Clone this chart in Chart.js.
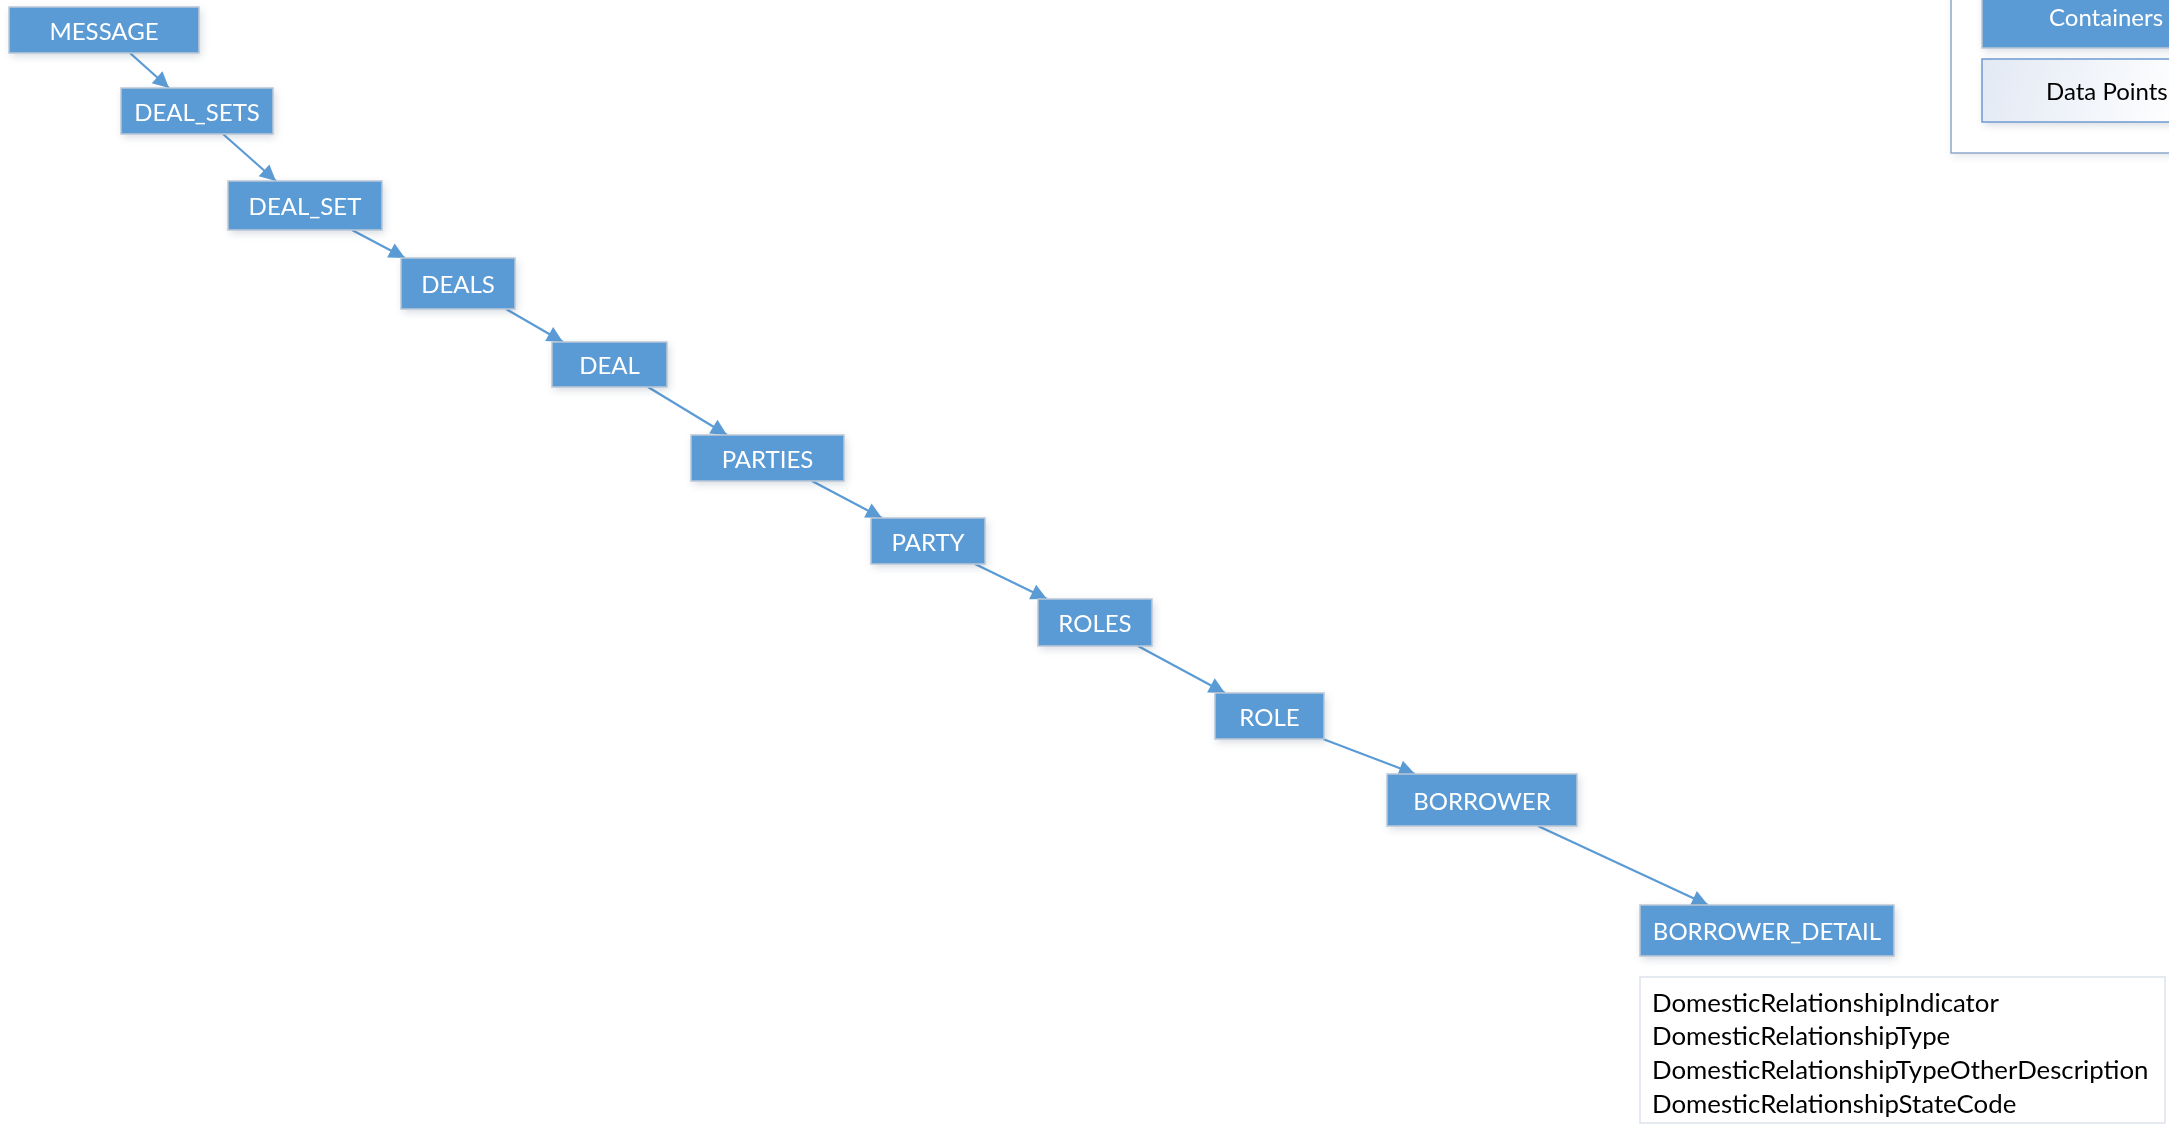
<!DOCTYPE html>
<html><head><meta charset="utf-8">
<script src="https://cdn.jsdelivr.net/npm/chart.js@4.4.1/dist/chart.umd.min.js"></script>
<style>html,body{margin:0;padding:0;background:#fff;overflow:hidden}canvas{display:block}</style>
</head><body>
<canvas id="c" width="2169" height="1131"></canvas>
<script>
// ---- data ----
const nodes = ['MESSAGE','DEAL_SETS','DEAL_SET','DEALS','DEAL','PARTIES','PARTY','ROLES','ROLE','BORROWER','BORROWER_DETAIL'];
const parentOf = [-1,0,1,2,3,4,5,6,7,8,9];
const dataPoints = ['DomesticRelationshipIndicator','DomesticRelationshipType','DomesticRelationshipTypeOtherDescription','DomesticRelationshipStateCode'];
const legendItems = ['Containers','Data Points'];

// ---- layout (diagram units) ----
const boxLeft   = [9,121,228,401,552,691,871,1038,1215,1387,1640];
const boxTop    = [7,88,181,258,342,435,518,599,693,774,905];
const boxRight  = [199,273,382,515,667,844,985,1152,1324,1577,1894];
const boxBottom = [53,134,230,309,387,481,564,646,739,826,956];
const edgeFromX = [null,130,223,352,506,648,812,975,1138,1323,1538];
const edgeToX   = [null,169,276,405,563,727,882,1047,1225,1415,1708];
const attrBox = {l:1640,t:977,r:2165,b:1123,textX:1652,firstBase:1011.5,step:33.7};
const legendBox = {l:1951,t:-20,r:2240,b:153};
const legendRows = [{l:1982,t:-20,r:2260,b:48,textX:2049,base:26},{l:1982,t:59,r:2260,b:122,textX:2046,base:100}];

const BLUE = '#5B9BD5';
const FONT = 'Lato, "Open Sans", sans-serif';

const datasets = [{
  label:'nodes',
  data: nodes.map((n,i)=>({x:(boxLeft[i]+boxRight[i])/2, y:(boxTop[i]+boxBottom[i])/2})),
  pointRadius:0, showLine:false
}];
nodes.forEach((n,i)=>{
  const p = parentOf[i];
  if (p < 0) return;
  datasets.push({
    label:'edge '+nodes[p]+'→'+n,
    data:[{x:edgeFromX[i], y:boxBottom[p]},{x:edgeToX[i], y:boxTop[i]}],
    showLine:true, borderColor:BLUE, borderWidth:2.2, pointRadius:0, fill:false
  });
});

const diagram = {
  id:'diagram',
  afterDatasetsDraw(chart){
    const ctx = chart.ctx, xs = chart.scales.x, ys = chart.scales.y;
    const X = v=>xs.getPixelForValue(v), Y = v=>ys.getPixelForValue(v);
    ctx.save();
    // arrowheads
    chart.data.datasets.forEach((ds,di)=>{
      if (di===0) return;
      const pts = chart.getDatasetMeta(di).data;
      const a = pts[0], b = pts[1];
      const ang = Math.atan2(b.y-a.y, b.x-a.x);
      const L = 16, W = 8;
      ctx.beginPath();
      ctx.moveTo(b.x, b.y);
      ctx.lineTo(b.x - L*Math.cos(ang) + W*Math.sin(ang), b.y - L*Math.sin(ang) - W*Math.cos(ang));
      ctx.lineTo(b.x - L*Math.cos(ang) - W*Math.sin(ang), b.y - L*Math.sin(ang) + W*Math.cos(ang));
      ctx.closePath();
      ctx.fillStyle = BLUE; ctx.fill();
    });
    // boxes
    nodes.forEach((n,i)=>{
      const l=X(boxLeft[i]), r=X(boxRight[i]), t=Y(boxTop[i]), b=Y(boxBottom[i]);
      ctx.save();
      ctx.shadowColor='rgba(60,80,110,0.22)'; ctx.shadowBlur=8; ctx.shadowOffsetX=2; ctx.shadowOffsetY=3;
      ctx.fillStyle=BLUE; ctx.fillRect(l,t,r-l,b-t);
      ctx.restore();
      ctx.strokeStyle='#BCC8D6'; ctx.lineWidth=1.5; ctx.strokeRect(l,t,r-l,b-t);
      ctx.fillStyle='#fff'; ctx.font='24px '+FONT; ctx.textAlign='center'; ctx.textBaseline='alphabetic';
      ctx.fillText(n,(l+r)/2,(t+b)/2+9.5);
    });
    // attribute box
    {
      const l=X(attrBox.l), r=X(attrBox.r), t=Y(attrBox.t), b=Y(attrBox.b);
      ctx.fillStyle='#fff'; ctx.fillRect(l,t,r-l,b-t);
      ctx.strokeStyle='#DCE3EC'; ctx.lineWidth=1.5; ctx.strokeRect(l,t,r-l,b-t);
      ctx.fillStyle='#000'; ctx.font='25.8px '+FONT; ctx.textAlign='left';
      dataPoints.forEach((s,k)=>ctx.fillText(s, X(attrBox.textX), Y(attrBox.firstBase + k*attrBox.step)));
    }
    // legend
    {
      const l=X(legendBox.l), r=X(legendBox.r), t=Y(legendBox.t), b=Y(legendBox.b);
      ctx.save();
      ctx.shadowColor='rgba(60,80,110,0.15)'; ctx.shadowBlur=8; ctx.shadowOffsetX=2; ctx.shadowOffsetY=3;
      ctx.fillStyle='#fff'; ctx.fillRect(l,t,r-l,b-t);
      ctx.restore();
      ctx.strokeStyle='#8FA9CB'; ctx.lineWidth=1.5; ctx.strokeRect(l,t,r-l,b-t);
      legendRows.forEach((row,k)=>{
        const rl=X(row.l), rr=X(row.r), rt=Y(row.t), rb=Y(row.b);
        ctx.save();
        ctx.shadowColor='rgba(60,80,110,0.22)'; ctx.shadowBlur=8; ctx.shadowOffsetX=2; ctx.shadowOffsetY=3;
        if (k===0) { ctx.fillStyle=BLUE; }
        else { const g=ctx.createLinearGradient(rl,rt,rl+200,rb); g.addColorStop(0,'#E2E9F4'); g.addColorStop(1,'#FFFFFF'); ctx.fillStyle=g; }
        ctx.fillRect(rl,rt,rr-rl,rb-rt);
        ctx.restore();
        ctx.strokeStyle = k===0 ? '#BCC8D6' : '#6F9BCF'; ctx.lineWidth=1.5; ctx.strokeRect(rl,rt,rr-rl,rb-rt);
        ctx.fillStyle = k===0 ? '#fff' : '#000'; ctx.font='24px '+FONT; ctx.textAlign='left';
        ctx.fillText(legendItems[k], X(row.textX), Y(row.base));
      });
    }
    ctx.restore();
  }
};

new Chart(document.getElementById('c'), {
  type:'scatter',
  data:{datasets},
  options:{
    responsive:false, animation:false, devicePixelRatio:1,
    layout:{padding:0},
    plugins:{legend:{display:false}, tooltip:{enabled:false}},
    scales:{
      x:{type:'linear', min:0, max:2169, display:false},
      y:{type:'linear', min:0, max:1131, reverse:true, display:false}
    }
  },
  plugins:[diagram]
});
</script>
</body></html>
